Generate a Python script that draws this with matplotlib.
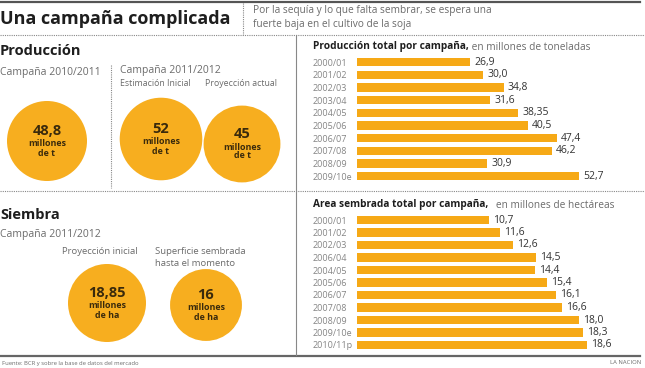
"""
Una campaña complicada - soja, producción y siembra.
"""

import matplotlib
matplotlib.use("Agg")
import matplotlib.pyplot as plt
from matplotlib.patches import Circle
import numpy as np

plt.rcParams['font.family'] = ['Open Sans', 'DejaVu Sans']

# --- data ---
prod_campaigns = ["2000/01", "2001/02", "2002/03", "2003/04", "2004/05",
                  "2005/06", "2006/07", "2007/08", "2008/09", "2009/10e"]
prod_values = [26.9, 30.0, 34.8, 31.6, 38.35, 40.5, 47.4, 46.2, 30.9, 52.7]

area_campaigns = ["2000/01", "2001/02", "2002/03", "2006/04", "2004/05", "2005/06",
                  "2006/07", "2007/08", "2008/09", "2009/10e", "2010/11p"]
area_values = [10.7, 11.6, 12.6, 14.5, 14.4, 15.4, 16.1, 16.6, 18.0, 18.3, 18.6]

prod_circle_labels = ["48,8", "52", "45"]
prod_circle_values = [48.8, 52, 45]
area_circle_labels = ["18,85", "16"]
area_circle_values = [18.85, 16]

ORANGE = "#F6A916"
CIRCLE = "#F7AE1F"
DARK = "#1e1e1e"
GREY = "#6b6b6b"
LIGHT = "#858585"
INK = "#3a2a0c"

W, H = 645, 368
fig = plt.figure(figsize=(W / 100, H / 100), dpi=100)
fig.patch.set_facecolor("white")

# layout axes in pixel coordinates
ax = fig.add_axes([0, 0, 1, 1])
ax.set_xlim(0, W)
ax.set_ylim(H, 0)
ax.axis("off")

# frame lines
ax.plot([0, 640], [2, 2], color="#555555", lw=1.6)
ax.plot([0, 640], [356, 356], color="#666666", lw=1.6)
ax.plot([0, 645], [35, 35], color="#888888", lw=0.8, ls=(0, (1, 1)))
ax.plot([243, 243], [3, 35], color="#888888", lw=0.8, ls=(0, (1, 1)))
ax.plot([296, 296], [35, 355], color="#888888", lw=0.8)
ax.plot([111, 111], [65, 188], color="#888888", lw=0.8, ls=(0, (1, 1)))
ax.plot([0, 645], [191, 191], color="#888888", lw=0.8, ls=(0, (1, 1)))

# headings
ax.text(0, 19, "Una campaña complicada", fontsize=13, fontweight="bold",
        color=DARK, va="center", ha="left")
ax.text(253, 10, "Por la sequía y lo que falta sembrar, se espera una",
        fontsize=7.3, color=GREY, va="center")
ax.text(253, 25, "fuerte baja en el cultivo de la soja",
        fontsize=7.3, color=GREY, va="center")

ax.text(0, 51, "Producción", fontsize=10.5, fontweight="bold", color=DARK, va="center")
ax.text(0, 72, "Campaña 2010/2011", fontsize=7.5, color=GREY, va="center")
ax.text(120, 70, "Campaña 2011/2012", fontsize=7.5, color=GREY, va="center")
ax.text(120, 84, "Estimación Inicial", fontsize=6.3, color=GREY, va="center")
ax.text(205, 84, "Proyección actual", fontsize=6.3, color=GREY, va="center")

ax.text(0, 215, "Siembra", fontsize=10.5, fontweight="bold", color=DARK, va="center")
ax.text(0, 235, "Campaña 2011/2012", fontsize=7.5, color=GREY, va="center")
ax.text(100, 252, "Proyección inicial", fontsize=6.8, color=GREY, va="center", ha="center")
ax.text(155, 252, "Superficie sembrada", fontsize=6.8, color=GREY, va="center")
ax.text(155, 263, "hasta el momento", fontsize=6.8, color=GREY, va="center")

ax.text(2, 363, "Fuente: BCR y sobre la base de datos del mercado", fontsize=4.2,
        color=GREY, va="center")
ax.text(641, 363, "LA NACION", fontsize=4.2, color=GREY, va="center", ha="right")

# circles: area proportional to value
prod_centers = [(47, 141), (161, 139), (242, 144)]
area_centers = [(107, 303), (206, 305)]
k_prod = 40 / np.sqrt(48.8)
k_area = 39 / np.sqrt(18.85)


def draw_circle(center, value, k, label, unit):
    cx, cy = center
    ax.add_patch(Circle((cx, cy), k * np.sqrt(value), color=CIRCLE, lw=0))
    ax.text(cx, cy - 10, label, fontsize=10.5, fontweight="bold", color=INK,
            ha="center", va="center")
    ax.text(cx, cy + 3, "millones", fontsize=6.4, fontweight="bold", color=INK,
            ha="center", va="center")
    ax.text(cx, cy + 12, unit, fontsize=6.4, fontweight="bold", color=INK,
            ha="center", va="center")


for c, v, lab in zip(prod_centers, prod_circle_values, prod_circle_labels):
    draw_circle(c, v, k_prod, lab, "de t")
for c, v, lab in zip(area_centers, area_circle_values, area_circle_labels):
    draw_circle(c, v, k_area, lab, "de ha")

# bar chart titles
t1 = ax.text(313, 47, "Producción total por campaña,", fontsize=7.3, fontweight="bold",
             color=DARK, va="center")
ax.annotate(" en millones de toneladas", xycoords=t1, xy=(1, 0.5), va="center",
            fontsize=7.3, color=GREY)
t2 = ax.text(313, 205, "Area sembrada total por campaña,", fontsize=7.3, fontweight="bold",
             color=DARK, va="center")
ax.annotate("   en millones de hectáreas", xycoords=t2, xy=(1, 0.5), va="center",
            fontsize=7.3, color=GREY)


def fmt(v):
    return str(v).replace(".", ",")


def bar_panel(cats, vals, x0, top, row_h, px_per_unit, xmax):
    n = len(cats)
    width_px = xmax * px_per_unit
    rect = [x0 / W, 1 - (top + n * row_h) / H, width_px / W, n * row_h / H]
    bax = fig.add_axes(rect)
    y = np.arange(n)
    bars = bax.barh(y, vals, height=0.66, color=ORANGE)
    bax.bar_label(bars, labels=[fmt(v) for v in vals], padding=3, fontsize=7.5,
                  color="#333333")
    bax.set_xlim(0, xmax)
    bax.set_ylim(n - 0.5, -0.5)
    bax.set_yticks(y)
    bax.set_yticklabels(cats, fontsize=6.5, color=LIGHT)
    bax.tick_params(axis="y", length=0, pad=(x0 - 313) * 0.72)
    for lab in bax.get_yticklabels():
        lab.set_horizontalalignment("left")
    bax.set_xticks([])
    for s in bax.spines.values():
        s.set_visible(False)
    bax.patch.set_alpha(0)
    return bax


bar_panel(prod_campaigns, prod_values, 357, 55.7, 12.67, 4.21, 62)
bar_panel(area_campaigns, area_values, 357, 213.75, 12.5, 12.35, 23)

fig.savefig("out.png", dpi=100)
